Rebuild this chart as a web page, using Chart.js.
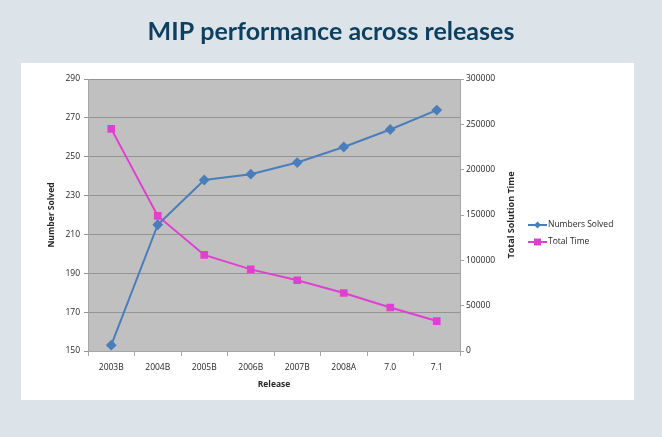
<!DOCTYPE html>
<html>
<head>
<meta charset="utf-8">
<script src="https://cdn.jsdelivr.net/npm/chart.js@4/dist/chart.umd.min.js"></script>
<style>
  html, body { margin: 0; padding: 0; background: #dce4ea; }
  #wrap { position: relative; width: 662px; height: 437px; }
</style>
</head>
<body>
<div id="wrap"><canvas id="c" width="662" height="437"></canvas></div>
<script>
const chartTitle = 'MIP performance across releases';
const rightAxisTitle = 'Total Solution Time';
const releases = ['2003B', '2004B', '2005B', '2006B', '2007B', '2008A', '7.0', '7.1'];
const numbersSolved = [153, 215, 238, 241, 247, 255, 264, 274];
const totalTime = [245000, 149000, 106000, 90000, 78000, 64000, 48000, 33000];

const BLUE = '#4a7ebb';
const PINK = '#e040d0';
const TICK_FONT = { family: 'Open Sans', size: 8.5 };
const TITLE_FONT = { family: 'Open Sans', size: 8.5, weight: 'bold' };

const panelPlugin = {
  id: 'panel',
  beforeDraw(chart) {
    const { ctx, chartArea } = chart;
    ctx.save();
    ctx.fillStyle = '#dce4ea';
    ctx.fillRect(0, 0, chart.width, chart.height);
    ctx.fillStyle = '#ffffff';
    ctx.fillRect(21, 63, 613, 337);
    ctx.fillStyle = '#c0c0c0';
    ctx.fillRect(chartArea.left, chartArea.top, chartArea.right - chartArea.left, chartArea.bottom - chartArea.top);
    ctx.restore();
  },
  afterDraw(chart) {
    const { ctx, chartArea } = chart;
    ctx.save();
    ctx.fillStyle = '#0d3f5f';
    ctx.font = 'bold 25px Lato';
    ctx.textAlign = 'center';
    ctx.textBaseline = 'middle';
    ctx.fillText(chartTitle, 331, 32);
    ctx.restore();
    // right axis title, reading bottom-to-top
    ctx.save();
    ctx.translate(511, (chartArea.top + chartArea.bottom) / 2);
    ctx.rotate(-Math.PI / 2);
    ctx.fillStyle = '#262626';
    ctx.font = 'bold 9px "Open Sans"';
    ctx.textAlign = 'center';
    ctx.textBaseline = 'middle';
    ctx.fillText(rightAxisTitle, 0, 0);
    ctx.restore();
  }
};

const legendPlugin = {
  id: 'sideLegend',
  afterDraw(chart) {
    const { ctx } = chart;
    const x0 = 528, y0 = 225, gap = 17;
    ctx.save();
    chart.data.datasets.forEach((ds, i) => {
      const y = y0 + i * gap;
      ctx.strokeStyle = ds.borderColor;
      ctx.lineWidth = 2;
      ctx.beginPath();
      ctx.moveTo(x0, y);
      ctx.lineTo(x0 + 19, y);
      ctx.stroke();
      ctx.fillStyle = ds.borderColor;
      const cx = x0 + 9.5;
      if (ds.pointStyle === 'rectRot') {
        ctx.beginPath();
        ctx.moveTo(cx, y - 3.5); ctx.lineTo(cx + 3.5, y); ctx.lineTo(cx, y + 3.5); ctx.lineTo(cx - 3.5, y);
        ctx.closePath(); ctx.fill();
      } else {
        ctx.fillRect(cx - 3.5, y - 3.5, 7, 7);
      }
      ctx.fillStyle = '#262626';
      ctx.font = '8.5px "Open Sans"';
      ctx.textBaseline = 'middle';
      ctx.textAlign = 'left';
      ctx.fillText(ds.label, x0 + 20, y);
    });
    ctx.restore();
  }
};

new Chart(document.getElementById('c'), {
  type: 'line',
  data: {
    labels: releases,
    datasets: [
      {
        label: 'Numbers Solved',
        data: numbersSolved,
        yAxisID: 'y',
        borderColor: BLUE,
        backgroundColor: BLUE,
        borderWidth: 2,
        pointStyle: 'rectRot',
        pointRadius: 4,
        pointHoverRadius: 4,
        tension: 0
      },
      {
        label: 'Total Time',
        data: totalTime,
        yAxisID: 'y1',
        borderColor: PINK,
        backgroundColor: PINK,
        borderWidth: 2,
        pointStyle: 'rect',
        pointRadius: 4,
        pointHoverRadius: 4,
        tension: 0
      }
    ]
  },
  options: {
    responsive: false,
    animation: false,
    layout: { padding: { left: 21, right: 142, top: 79, bottom: 36 } },
    plugins: {
      legend: { display: false },
      tooltip: { enabled: false },
      title: { display: false }
    },
    scales: {
      x: {
        offset: true,
        grid: { offset: true, drawOnChartArea: false, drawTicks: true, tickLength: 5, color: '#a6a6a6' },
        border: { color: '#a6a6a6' },
        ticks: { font: TICK_FONT, color: '#262626', padding: 6, maxRotation: 0 },
        title: { display: true, text: 'Release', font: TITLE_FONT, color: '#262626', padding: { top: 4, bottom: 11 } },
        afterFit(s) { s.height = 50; }
      },
      y: {
        position: 'left',
        min: 150, max: 290,
        ticks: { stepSize: 20, font: TICK_FONT, color: '#262626', padding: 4 },
        grid: { color: '#949494', tickLength: 4 },
        border: { color: '#a6a6a6' },
        title: { display: true, text: 'Number Solved', font: TITLE_FONT, color: '#262626', padding: { top: 25, bottom: 0 } },
        afterFit(s) { s.width = 67; }
      },
      y1: {
        position: 'right',
        min: 0, max: 300000,
        ticks: { stepSize: 50000, font: TICK_FONT, color: '#262626', padding: 2, callback: v => String(v) },
        grid: { drawOnChartArea: false, tickLength: 4, color: '#a6a6a6' },
        border: { color: '#a6a6a6' },
        title: { display: false },
        afterFit(s) { s.width = 60; }
      }
    }
  },
  plugins: [panelPlugin, legendPlugin]
});
</script>
</body>
</html>
